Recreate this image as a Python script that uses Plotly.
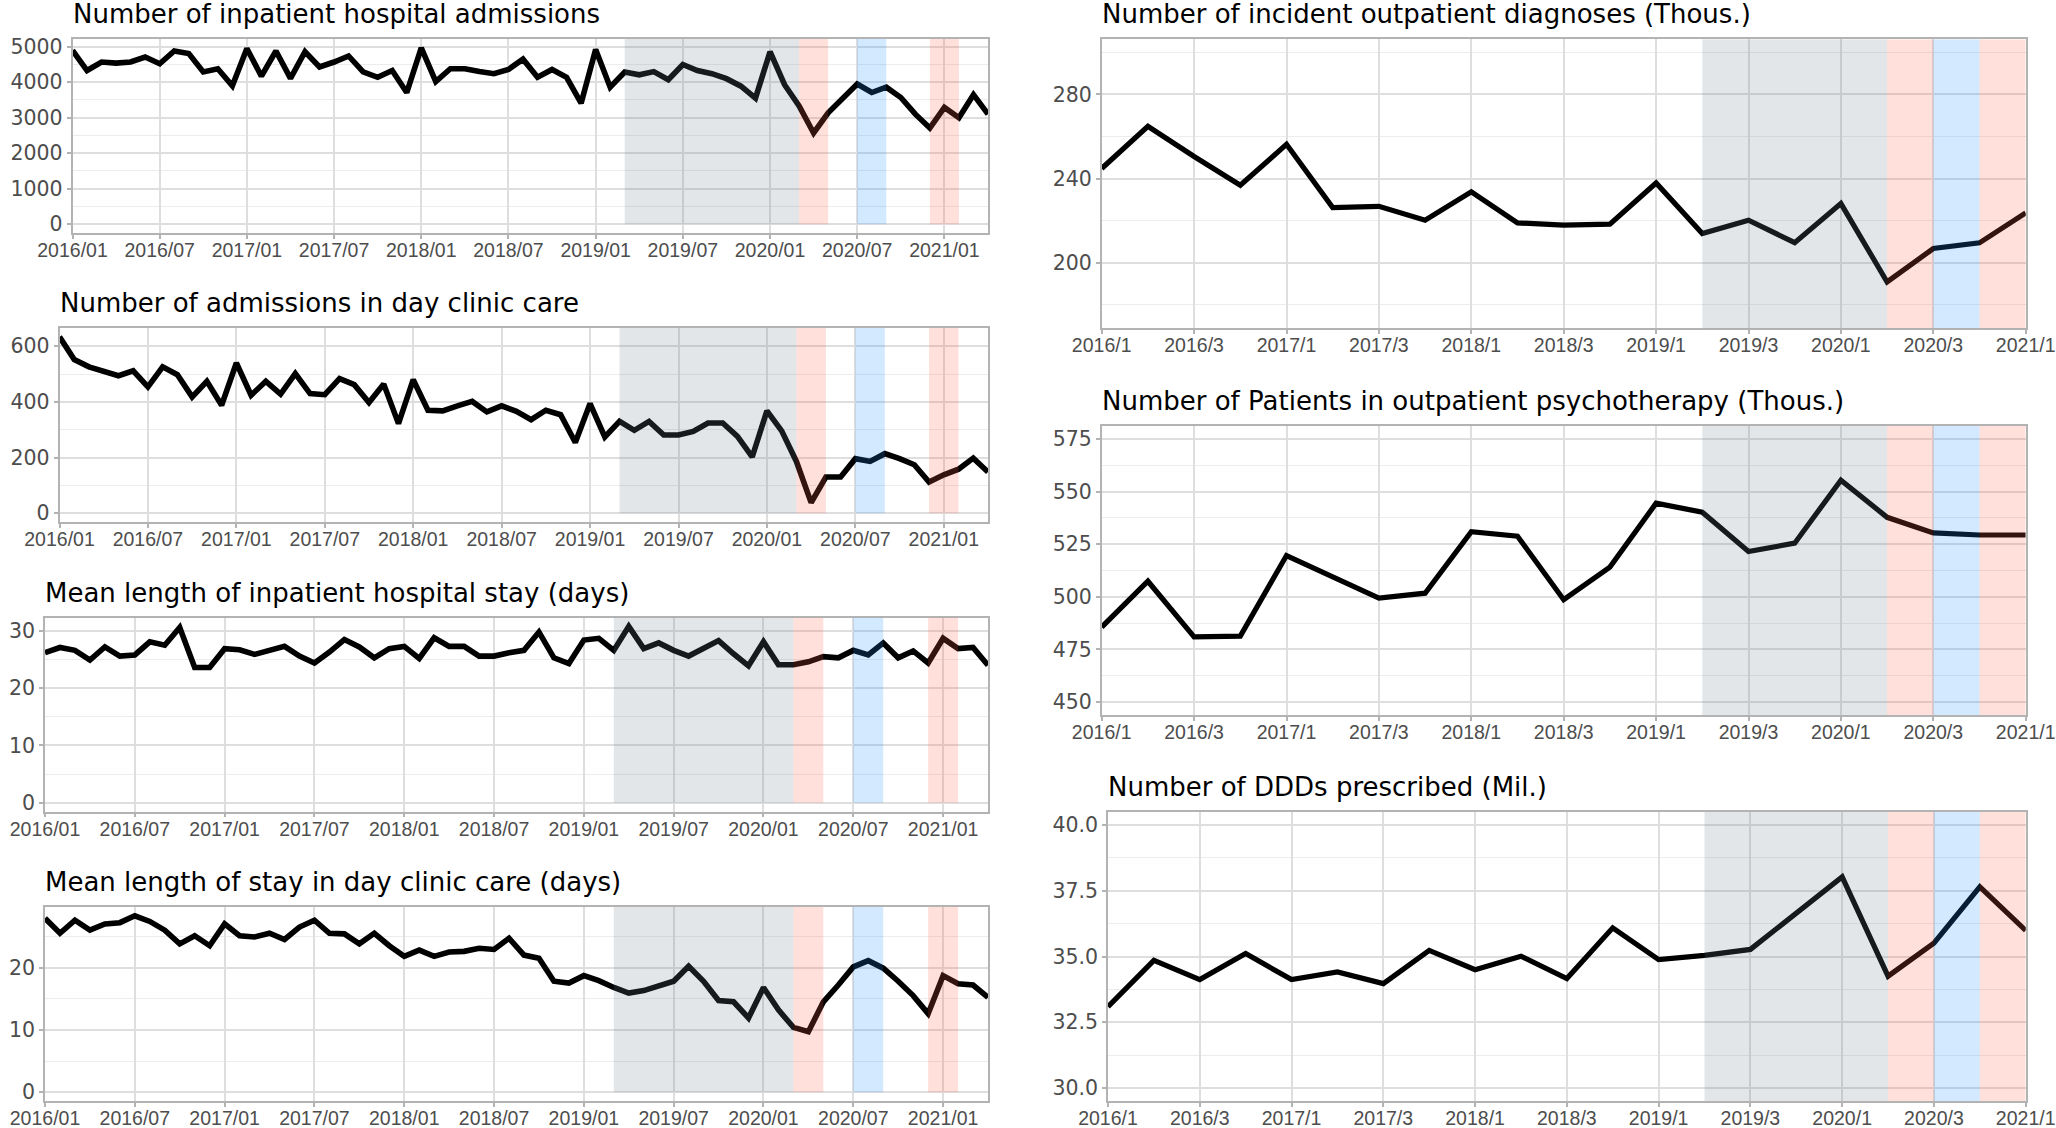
import plotly.graph_objects as go

W, H = 2056, 1128

# ---------------- data ----------------
months = [f"{2016 + i // 12}/{i % 12 + 1:02d}" for i in range(64)]      # 2016/01 .. 2021/04
quarters = [f"{2016 + i // 4}/{i % 4 + 1}" for i in range(21)]          # 2016/1 .. 2021/1

month_ticks = ["2016/01", "2016/07", "2017/01", "2017/07", "2018/01", "2018/07",
               "2019/01", "2019/07", "2020/01", "2020/07", "2021/01"]
quarter_ticks = ["2016/1", "2016/3", "2017/1", "2017/3", "2018/1", "2018/3",
                 "2019/1", "2019/3", "2020/1", "2020/3", "2021/1"]

inpatient_admissions = [4900, 4330, 4570, 4540, 4570, 4710, 4520, 4880, 4810, 4290,
                        4380, 3900, 4950, 4170, 4880, 4110, 4860, 4430, 4570, 4740,
                        4290, 4140, 4330, 3710, 4970, 4020, 4380, 4380, 4300, 4240,
                        4360, 4650, 4140, 4360, 4140, 3410, 4920, 3860, 4290, 4210,
                        4300, 4070, 4500, 4330, 4240, 4100, 3890, 3550, 4860, 3930,
                        3330, 2570, 3140, 3550, 3950, 3710, 3860, 3570, 3100, 2710,
                        3290, 3000, 3650, 3100]
day_clinic_admissions = [634, 552, 526, 510, 494, 512, 454, 526, 498, 418,
                         474, 388, 540, 424, 474, 428, 502, 430, 426, 484,
                         462, 398, 464, 322, 480, 370, 368, 386, 402, 364,
                         386, 366, 336, 370, 354, 254, 394, 274, 330, 298,
                         330, 281, 281, 294, 324, 324, 276, 202, 368, 296,
                         186, 38, 130, 130, 196, 186, 214, 196, 174, 112,
                         138, 158, 198, 148]
inpatient_los = [26.2, 27.1, 26.6, 24.9, 27.2, 25.6, 25.8, 28.1, 27.5, 30.6,
                 23.6, 23.6, 26.9, 26.7, 25.9, 26.5, 27.3, 25.6, 24.4, 26.3,
                 28.5, 27.2, 25.3, 26.9, 27.3, 25.2, 28.8, 27.3, 27.3, 25.6,
                 25.6, 26.2, 26.6, 29.8, 25.3, 24.3, 28.4, 28.7, 26.6, 30.8,
                 26.9, 27.9, 26.6, 25.6, 26.9, 28.3, 26.0, 23.9, 28.1, 24.1,
                 24.1, 24.6, 25.5, 25.3, 26.6, 25.8, 27.9, 25.3, 26.5, 24.4,
                 28.7, 26.9, 27.1, 24.0]
day_clinic_los = [27.9, 25.5, 27.6, 26.0, 27.0, 27.2, 28.3, 27.4, 26.0, 23.8,
                  25.1, 23.5, 27.0, 25.1, 24.9, 25.5, 24.5, 26.5, 27.6, 25.5,
                  25.4, 23.8, 25.5, 23.5, 21.8, 22.8, 21.8, 22.5, 22.6, 23.1,
                  22.9, 24.7, 22.0, 21.5, 17.8, 17.5, 18.7, 17.9, 16.8, 15.9,
                  16.3, 17.0, 17.8, 20.2, 17.8, 14.7, 14.5, 11.9, 16.8, 13.2,
                  10.4, 9.7, 14.5, 17.2, 20.1, 21.1, 19.9, 17.8, 15.5, 12.6,
                  18.7, 17.4, 17.2, 15.2]

outpatient_diagnoses = [244.8, 264.9, 250.5, 236.8, 256.3, 226.2, 226.8, 220.2, 233.7, 218.9,
                        217.8, 218.3, 237.9, 213.8, 220.2, 209.5, 228.1, 190.8, 206.7, 209.4,
                        223.7]
psychotherapy_patients = [485.6, 507.4, 480.9, 481.3, 519.6, 509.3, 499.4, 501.7, 531.0, 528.8,
                          498.6, 514.1, 544.5, 540.2, 521.5, 525.5, 555.5, 537.8, 530.4, 529.4,
                          529.4]
ddds_prescribed = [33.09, 34.85, 34.12, 35.11, 34.12, 34.41, 33.97, 35.23, 34.50, 35.01,
                   34.16, 36.09, 34.88, 35.04, 35.27, 36.65, 38.03, 34.25, 35.51, 37.65,
                   35.99]

# pandemic phases (start, end, kind)
month_periods = [("2019/03", "2020/03", "pre"), ("2020/03", "2020/05", "lockdown"),
                 ("2020/07", "2020/09", "relax"), ("2020/12", "2021/02", "lockdown")]
quarter_periods = [("2019/2", "2020/2", "pre"), ("2020/2", "2020/3", "lockdown"),
                   ("2020/3", "2020/4", "relax"), ("2020/4", "2021/1", "lockdown")]

# ---------------- styling ----------------
phase_color = {"pre": "#708090", "lockdown": "#FF6347", "relax": "#1E90FF"}
GRID = "#dedede"
MINOR = "#ececec"
BORDER = "#b3b3b3"
TICKTXT = "#4d4d4d"

panels = [
    dict(title="Number of inpatient hospital admissions", x=months, y=inpatient_admissions,
         ticks=month_ticks, periods=month_periods, box=(72.5, 988, 39, 233),
         dtick=1000, minor=500, from_zero=True, lw=5.6),
    dict(title="Number of admissions in day clinic care", x=months, y=day_clinic_admissions,
         ticks=month_ticks, periods=month_periods, box=(59.5, 988, 328, 522),
         dtick=200, minor=100, from_zero=True, lw=5.6),
    dict(title="Mean length of inpatient hospital stay (days)", x=months, y=inpatient_los,
         ticks=month_ticks, periods=month_periods, box=(45, 988, 617.5, 811.5),
         dtick=10, minor=5, from_zero=True, lw=5.6),
    dict(title="Mean length of stay in day clinic care (days)", x=months, y=day_clinic_los,
         ticks=month_ticks, periods=month_periods, box=(45, 988, 907, 1101),
         dtick=10, minor=5, from_zero=True, lw=5.6),
    dict(title="Number of incident outpatient diagnoses (Thous.)", x=quarters, y=outpatient_diagnoses,
         ticks=quarter_ticks, periods=quarter_periods, box=(1101.7, 2025.7, 39.3, 328.3),
         limits=(175, 300), tick0=200, dtick=40, minor=20, from_zero=False, lw=5.2),
    dict(title="Number of Patients in outpatient psychotherapy (Thous.)", x=quarters, y=psychotherapy_patients,
         ticks=quarter_ticks, periods=quarter_periods, box=(1101.7, 2025.7, 426, 715),
         limits=(450, 575), tick0=450, dtick=25, minor=12.5, from_zero=False, lw=5.2),
    dict(title="Number of DDDs prescribed (Mil.)", x=quarters, y=ddds_prescribed,
         ticks=quarter_ticks, periods=quarter_periods, box=(1108, 2025.7, 812, 1101),
         limits=(30, 40), tick0=30, dtick=2.5, minor=1.25, fmt=".1f", from_zero=False, lw=5.2),
]

fig = go.Figure()
layout = dict(width=W, height=H, margin=dict(l=0, r=0, t=0, b=0, autoexpand=False),
              paper_bgcolor="white", plot_bgcolor="white", showlegend=False)
shapes, annotations = [], []

for i, p in enumerate(panels, start=1):
    xa = "xaxis" if i == 1 else f"xaxis{i}"
    ya = "yaxis" if i == 1 else f"yaxis{i}"
    xr = "x" if i == 1 else f"x{i}"
    yr = "y" if i == 1 else f"y{i}"
    l, r, t, b = p["box"]

    if p["from_zero"]:
        lo, hi = min(0, min(p["y"])), max(p["y"])
    else:
        lo, hi = p["limits"]
    pad = 0.05 * (hi - lo)
    yrange = [lo - pad, hi + pad]

    fig.add_trace(go.Scatter(x=p["x"], y=p["y"], mode="lines", xaxis=xr, yaxis=yr,
                             line=dict(color="black", width=p["lw"]), hoverinfo="skip"))

    layout[xa] = dict(domain=[l / W, r / W], anchor=yr, type="category",
                      range=[0, len(p["x"]) - 1], tickmode="array",
                      tickvals=p["ticks"], ticktext=p["ticks"], automargin=False,
                      showgrid=True, gridcolor=GRID, gridwidth=1.5,
                      showline=True, mirror=True, linecolor=BORDER, linewidth=1.5,
                      ticks="outside", ticklen=4, tickwidth=1.5, tickcolor=BORDER,
                      ticklabelstandoff=-5,
                      tickfont=dict(family="Liberation Sans, Arial", size=19.5, color=TICKTXT),
                      zeroline=False, fixedrange=True)
    ydict = dict(domain=[1 - b / H, 1 - t / H], anchor=xr, range=yrange,
                 tick0=p.get("tick0", 0), dtick=p["dtick"], automargin=False,
                 showgrid=True, gridcolor=GRID, gridwidth=1.5,
                 minor=dict(showgrid=True, gridcolor=MINOR, gridwidth=1,
                            tick0=p.get("tick0", 0), dtick=p["minor"]),
                 showline=True, mirror=True, linecolor=BORDER, linewidth=1.5,
                 ticks="outside", ticklen=4, tickwidth=1.5, tickcolor=BORDER,
                 tickfont=dict(family="DejaVu Sans", size=20.5, color=TICKTXT),
                 zeroline=False, fixedrange=True)
    if "fmt" in p:
        ydict["tickformat"] = p["fmt"]
    layout[ya] = ydict

    for start, end, kind in p["periods"]:
        shapes.append(dict(type="rect", xref=xr, yref=yr, x0=start, x1=end,
                           y0=0 if p["from_zero"] else yrange[0], y1=yrange[1],
                           fillcolor=phase_color[kind], opacity=0.2,
                           line=dict(width=0), layer="above"))

    annotations.append(dict(text=p["title"], xref="paper", yref="paper",
                            x=l / W, y=1 - t / H, xanchor="left", yanchor="bottom",
                            yshift=8, xshift=-2, showarrow=False,
                            font=dict(family="DejaVu Sans", size=26, color="black")))

layout["shapes"] = shapes
layout["annotations"] = annotations
fig.update_layout(**layout)

fig.write_html("out.html", config={"displayModeBar": False},
               post_script="document.body.style.margin='0';")
